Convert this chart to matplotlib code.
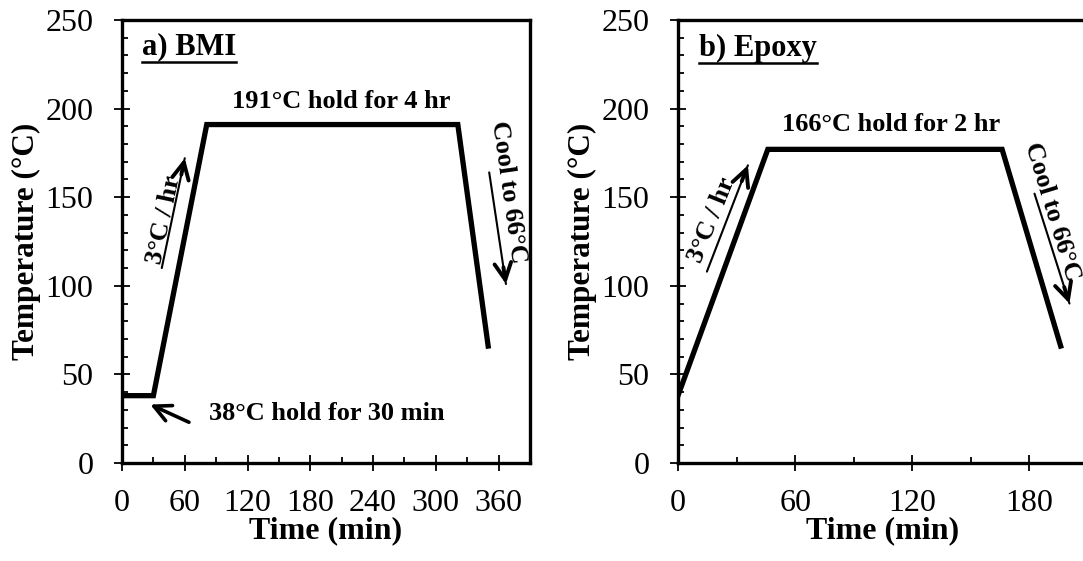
import numpy as np
import matplotlib
matplotlib.use('Agg')
import matplotlib.pyplot as plt
from matplotlib.lines import Line2D

plt.rcParams['font.family'] = ['Liberation Serif', 'DejaVu Serif']

# cure cycles (time in min, temperature in degC)
bmi_time = [0, 30, 81, 321, 350]
bmi_temp = [38, 38, 191, 191, 66]
epoxy_time = [0, 46, 166, 196]
epoxy_temp = [38, 177, 177, 66]

bmi_xticks = [0, 60, 120, 180, 240, 300, 360]
epoxy_xticks = [0, 60, 120, 180]
yticks = [0, 50, 100, 150, 200, 250]

W, H = 1083, 561
fig = plt.figure(figsize=(W / 100, H / 100), dpi=100)
ax1 = fig.add_axes([122 / W, 1 - 463 / H, 408 / W, 443 / H])
ax2 = fig.add_axes([678 / W, 1 - 463 / H, 410 / W, 443 / H])


def style(ax, xmax, xticks):
    ax.set_xlim(0, xmax)
    ax.set_ylim(0, 250)
    ax.set_xticks(xticks)
    ax.set_xticks(np.arange(0, xmax + 1, 30), minor=True)
    ax.set_yticks(yticks)
    ax.set_yticks(np.arange(0, 251, 10), minor=True)
    for s in ax.spines.values():
        s.set_linewidth(2.4)
    ax.tick_params(which='major', direction='inout', length=11, width=1.3,
                   labelsize=23)
    ax.tick_params(axis='x', which='major', pad=13)
    ax.tick_params(axis='y', which='major', pad=15)
    ax.tick_params(which='minor', direction='in', length=4.5, width=1.3)
    ax.set_xlabel('Time (min)', fontsize=23, fontweight='bold', labelpad=-1)
    ax.set_ylabel('Temperature (\u00b0C)', fontsize=22.5, fontweight='bold',
                  labelpad=3)


def arrow(ax, tail, head):
    # thin shaft, heavier open head
    ax.annotate('', xy=head, xytext=tail,
                arrowprops=dict(arrowstyle='-', lw=1.5, color='black',
                                shrinkA=0, shrinkB=0))
    mid = (tail[0] + 0.85 * (head[0] - tail[0]), tail[1] + 0.85 * (head[1] - tail[1]))
    ax.annotate('', xy=head, xytext=mid,
                arrowprops=dict(arrowstyle='->', lw=2.8, color='black',
                                mutation_scale=30, shrinkA=0, shrinkB=0))


style(ax1, 390, bmi_xticks)
style(ax2, 210, epoxy_xticks)

ax1.plot(bmi_time, bmi_temp, color='black', lw=3.8, solid_joinstyle='miter')
ax2.plot(epoxy_time, epoxy_temp, color='black', lw=3.8, solid_joinstyle='miter')

bold = dict(fontweight='bold', fontsize=19)
title = dict(fontweight='bold', fontsize=22)

# panel a
t1 = ax1.text(19, 235, 'a) BMI', va='center', ha='left', **title)
ax1.text(210, 204, '191\u00b0C hold for 4 hr', ha='center', va='center', **bold)
ax1.text(83, 28, '38\u00b0C hold for 30 min', ha='left', va='center', **bold)
ax1.annotate('', xy=(27, 33), xytext=(64, 23),
             arrowprops=dict(arrowstyle='->', lw=2.6, color='black',
                             mutation_scale=30, shrinkA=0, shrinkB=0))
arrow(ax1, (38, 110), (60, 172))
ax1.text(40, 137, '3\u00b0C / hr', rotation=78, ha='center', va='center', **bold)
arrow(ax1, (351, 164), (367, 101))
ax1.text(369, 153, 'Cool to 66\u00b0C', rotation=-82, ha='center', va='center',
         **bold)

# panel b
t2 = ax2.text(10.7, 234, 'b) Epoxy', va='center', ha='left', **title)
ax2.text(109, 191, '166\u00b0C hold for 2 hr', ha='center', va='center', **bold)
arrow(ax2, (14.8, 108), (35.8, 168))
ax2.text(17.4, 137, '3\u00b0C / hr', rotation=68, ha='center', va='center', **bold)
arrow(ax2, (182.6, 152), (200.5, 90))
ax2.text(191.5, 142, 'Cool to 66\u00b0C', rotation=-73, ha='center', va='center',
         **bold)

# underline the panel titles
fig.canvas.draw()
r = fig.canvas.get_renderer()
for t in (t1, t2):
    bb = t.get_window_extent(r).transformed(fig.transFigure.inverted())
    y = bb.y0 - 0.5 / H
    fig.add_artist(Line2D([bb.x0, bb.x1], [y, y], lw=1.8, color='black'))

fig.savefig('out.png', dpi=100)
